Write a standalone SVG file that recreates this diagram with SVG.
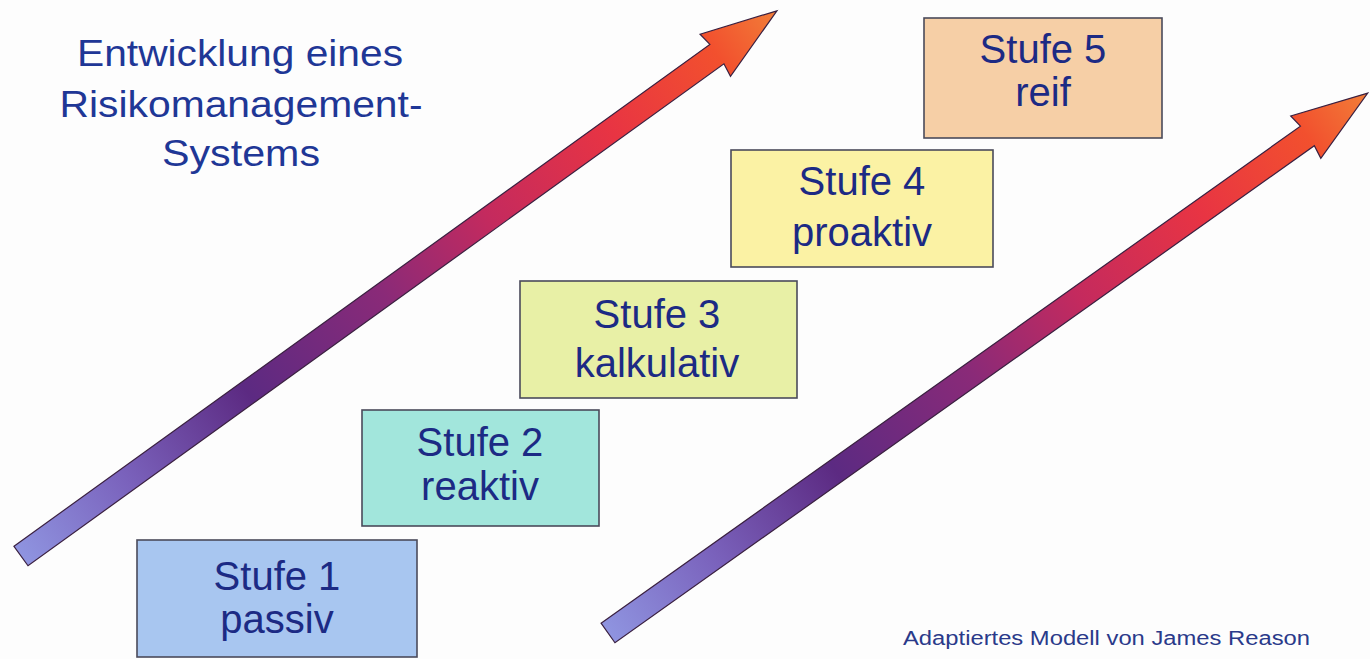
<svg xmlns="http://www.w3.org/2000/svg" width="1370" height="659" viewBox="0 0 1370 659">
  <style>
    .box { stroke: #4a4a5a; stroke-width: 1.6; }
    .lbl { font-family: "Liberation Sans", Arial, sans-serif; font-size: 40px; fill: #1c2a84; text-anchor: middle; }
    .title { font-family: "Liberation Sans", Arial, sans-serif; font-size: 37px; fill: #1f3796; text-anchor: middle; }
    .note { font-family: "Liberation Sans", Arial, sans-serif; font-size: 20px; fill: #2a3a8a; }
    .arrow { fill: url(#arrGrad); stroke: #3a2040; stroke-width: 1.2; stroke-linejoin: miter; }
  </style>
  <defs>
    <linearGradient id="arrGrad" x1="0" y1="0" x2="1" y2="0">
      <stop offset="0" stop-color="#8f94e0"/>
      <stop offset="0.14" stop-color="#7a62bc"/>
      <stop offset="0.3" stop-color="#5c2a82"/>
      <stop offset="0.48" stop-color="#8a2a78"/>
      <stop offset="0.62" stop-color="#c42a5e"/>
      <stop offset="0.78" stop-color="#e83443"/>
      <stop offset="0.92" stop-color="#f2502e"/>
      <stop offset="1" stop-color="#f27e38"/>
    </linearGradient>
    <path id="arrowShape" d="M0,-12 L858,-12 L856,-26 L932,0 L856,26 L858,12 L0,12 Z"/>
  </defs>

  <rect x="0" y="0" width="1370" height="659" fill="#fdfdfd"/>

  <g id="connectors">
    <use href="#arrowShape" class="arrow" transform="translate(21,556) rotate(-35.8)"/>
    <use href="#arrowShape" class="arrow" transform="translate(608,633) rotate(-35.4)"/>
  </g>

  <g id="title">
    <text class="title" x="240" y="66" textLength="326" lengthAdjust="spacingAndGlyphs">Entwicklung eines</text>
    <text class="title" x="241" y="117" textLength="363" lengthAdjust="spacingAndGlyphs">Risikomanagement-</text>
    <text class="title" x="241" y="166" textLength="158" lengthAdjust="spacingAndGlyphs">Systems</text>
  </g>

  <g id="stufe1">
    <rect class="box" x="137" y="540" width="280" height="117" fill="#a8c6f0"/>
    <text class="lbl" x="277" y="590">Stufe 1</text>
    <text class="lbl" x="277" y="633">passiv</text>
  </g>

  <g id="stufe2">
    <rect class="box" x="362" y="410" width="237" height="116" fill="#a2e6dc"/>
    <text class="lbl" x="480" y="456">Stufe 2</text>
    <text class="lbl" x="480" y="500">reaktiv</text>
  </g>

  <g id="stufe3">
    <rect class="box" x="520" y="281" width="277" height="117" fill="#e8f0a6"/>
    <text class="lbl" x="657" y="328">Stufe 3</text>
    <text class="lbl" x="657" y="377">kalkulativ</text>
  </g>

  <g id="stufe4">
    <rect class="box" x="731" y="150" width="262" height="117" fill="#fbf2a4"/>
    <text class="lbl" x="862" y="195">Stufe 4</text>
    <text class="lbl" x="862" y="246">proaktiv</text>
  </g>

  <g id="stufe5">
    <rect class="box" x="924" y="18" width="238" height="120" fill="#f6cfa6"/>
    <text class="lbl" x="1043" y="63">Stufe 5</text>
    <text class="lbl" x="1043" y="106">reif</text>
  </g>

  <g id="footnote">
    <text class="note" x="903" y="645" textLength="407" lengthAdjust="spacingAndGlyphs">Adaptiertes Modell von James Reason</text>
  </g>
</svg>
